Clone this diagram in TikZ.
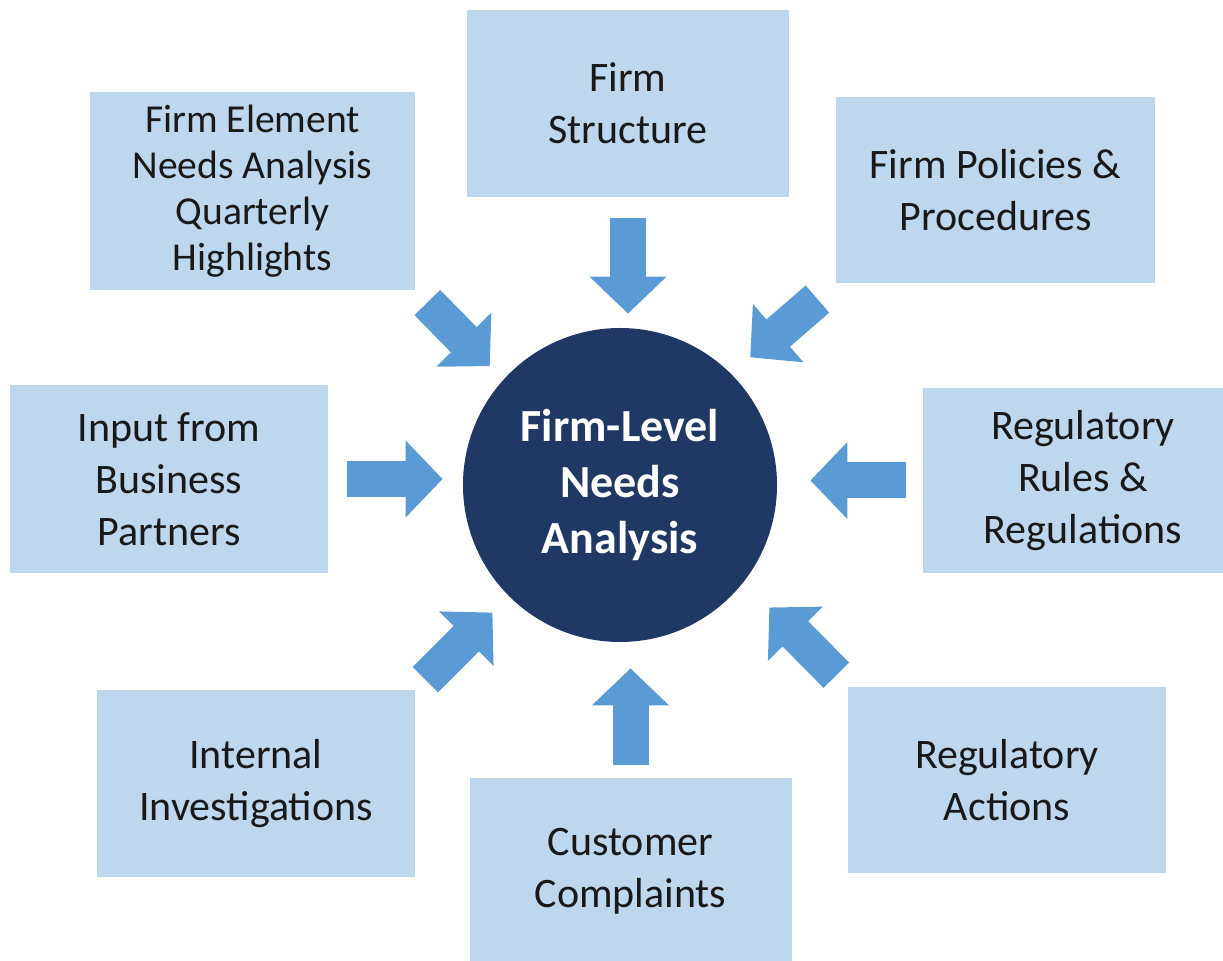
\documentclass[tikz,border=0pt]{standalone}
\usepackage{fontspec}
\setmainfont{Carlito}
\usetikzlibrary{arrows.meta,calc,positioning}
\definecolor{boxblue}{HTML}{BDD7EE}
\definecolor{arrowblue}{HTML}{5B9BD5}
\definecolor{hubnavy}{HTML}{1F3864}

\begin{document}
\begin{tikzpicture}[x=0.5pt, y=-0.5pt,
  src/.style={rectangle, fill=boxblue, align=center, text=black!90, inner sep=0pt,
    font=\fontsize{21}{26}\selectfont},
  feed/.style={draw=arrowblue, line width=18pt, -{Triangle[length=18.5pt,width=37.5pt]}}]
  \useasboundingbox (0,0) rectangle (1223,961);

  \node[circle, fill=hubnavy, minimum size=157pt, text=white, align=center,
    font=\bfseries\fontsize{23}{28}\selectfont] (hub) at (620,485) {Firm-Level\\Needs\\Analysis};

  \node[src, minimum width=162.5pt, minimum height=99pt, font=\fontsize{19.8}{23}\selectfont]
    (elem) at (252.5,191) {Firm Element\\Needs Analysis\\Quarterly\\Highlights};
  \node[src, minimum width=161pt, minimum height=93.5pt] (structure) at (628,103.5) {Firm\\Structure};
  \node[src, minimum width=159.5pt, minimum height=93pt] (policy) at (995.5,190) {Firm Policies \&\\Procedures};
  \node[src, minimum width=159pt, minimum height=94pt] (input) at (169,479) {Input from\\Business\\Partners};
  \node[src, minimum width=160pt, minimum height=92.5pt] (rules) at (1083,480.5) {Regulatory\\Rules \&\\Regulations};
  \node[src, minimum width=159pt, minimum height=93.5pt] (invest) at (256,783.5) {Internal\\Investigations};
  \node[src, minimum width=161pt, minimum height=93.5pt] (complaints) at (630.5,871.5) {Customer\\Complaints};
  \node[src, minimum width=159pt, minimum height=93pt] (actions) at (1007,780) {Regulatory\\Actions};

  \draw[feed, shorten <=8.5pt, shorten >=9.5pt] (elem.south east) -- (hub.138);
  \draw[feed, shorten <=10.5pt, shorten >=7pt] (structure.south) -- (structure.south |- hub.north);
  \draw[feed, shorten <=12pt, shorten >=12.5pt] (policy.south west) -- (hub.45);
  \draw[feed, shorten <=9.5pt, shorten >=10pt] (input.east) -- (input.east -| hub.west);
  \draw[feed, shorten <=8.5pt, shorten >=16.5pt] (rules.west) -- (rules.west -| hub.east);
  \draw[feed, shorten <=7pt, shorten >=11.5pt] (invest.north east) -- (hub.225);
  \draw[feed, shorten <=6.5pt, shorten >=13pt] (complaints.north) -- (complaints.north |- hub.south);
  \draw[feed, shorten <=8pt, shorten >=18pt] (actions.north west) -- (hub.322);

\end{tikzpicture}
\end{document}
